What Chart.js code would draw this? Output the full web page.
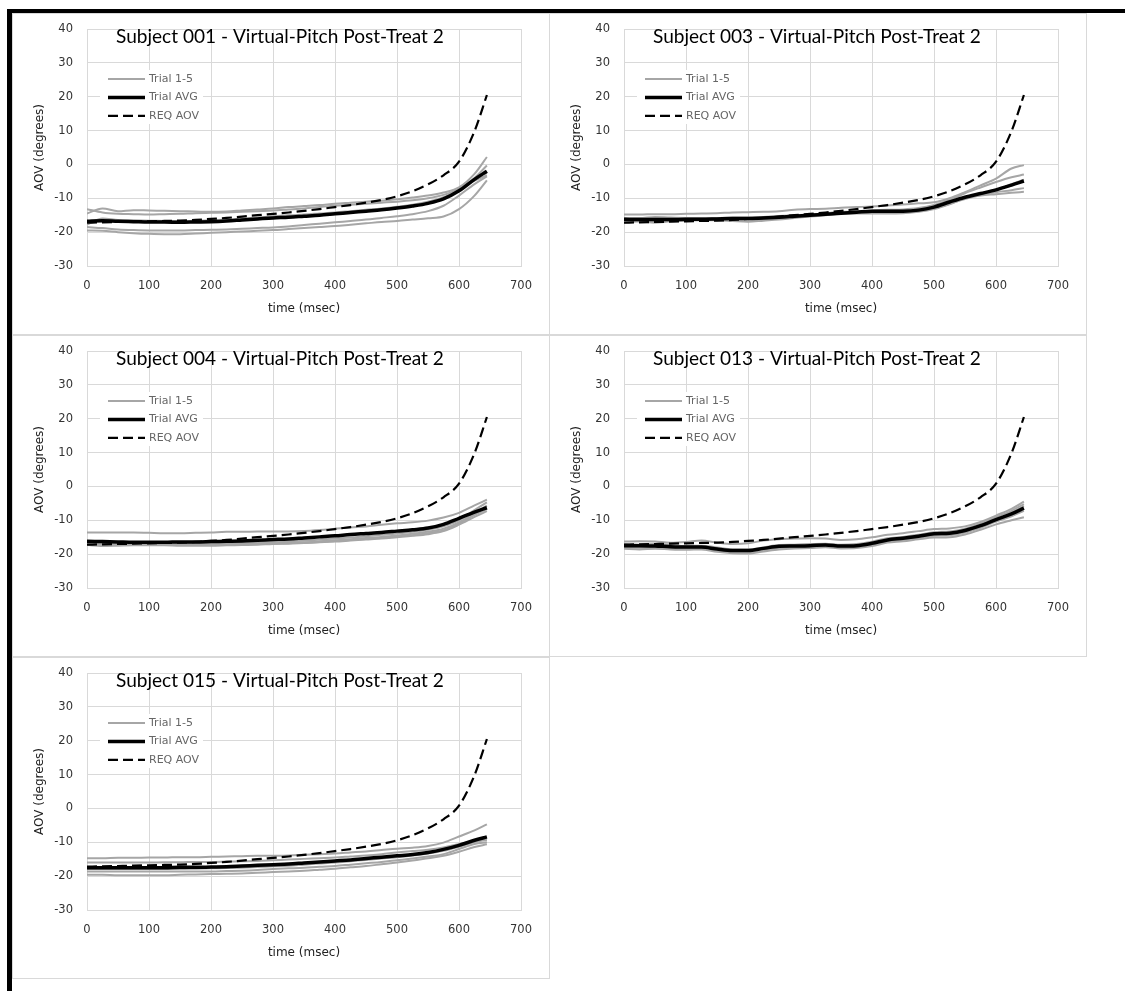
<!DOCTYPE html>
<html>
<head>
<meta charset="utf-8">
<script src="https://cdn.jsdelivr.net/npm/chart.js@4.4.1/dist/chart.umd.min.js"></script>
<style>
  body { margin: 0; background: #fff; width: 1125px; height: 991px; overflow: hidden; position: relative; }
  #frame { position: absolute; left: 7px; top: 9px; right: 0; bottom: 0; border-top: 4px solid #000; border-left: 5px solid #000; }
  .panel { position: absolute; box-sizing: border-box; border: 1px solid #d9d9d9; background: #fff; }
  .panel canvas { position: absolute; left: 0; top: 0; }
</style>
</head>
<body>
<div id="frame"></div>
<div class="panel" style="left:12px;top:13px;width:538px;height:322px"><canvas id="c001" width="536" height="320"></canvas></div>
<div class="panel" style="left:549px;top:13px;width:538px;height:322px"><canvas id="c003" width="536" height="320"></canvas></div>
<div class="panel" style="left:12px;top:335px;width:538px;height:322px"><canvas id="c004" width="536" height="320"></canvas></div>
<div class="panel" style="left:549px;top:335px;width:538px;height:322px"><canvas id="c013" width="536" height="320"></canvas></div>
<div class="panel" style="left:12px;top:657px;width:538px;height:322px"><canvas id="c015" width="536" height="320"></canvas></div>
<script>
// time axis (msec), shared by every series
const TIME = [0,25,50,75,100,125,150,175,200,225,250,275,300,325,350,375,400,425,450,475,500,525,550,575,600,625,645];
const X_TICKS = [0, 700, 100];   // min, max, step
const Y_TICKS = [-30, 40, 10];

// required angle of view (same curve in every panel)
const REQ_AOV = [-17.2,-17.1,-17.0,-16.9,-16.8,-16.7,-16.6,-16.4,-16.1,-15.8,-15.4,-15.0,-14.6,-14.2,-13.7,-13.2,-12.6,-12.0,-11.3,-10.5,-9.4,-7.9,-5.9,-3.2,0.8,9.8,20.5];

// Subject 001
const S001_TRIALS = [
  [-14.5,-13.0,-13.8,-13.5,-13.6,-13.7,-13.8,-13.9,-14.0,-13.9,-13.6,-13.3,-13.0,-12.6,-12.3,-12.0,-11.6,-11.3,-11.0,-10.7,-10.3,-9.8,-9.2,-8.3,-6.8,-2.8,2.2],
  [-13.2,-14.2,-14.6,-14.7,-14.8,-14.7,-14.6,-14.4,-14.3,-14.2,-14.0,-13.8,-13.6,-13.3,-13.0,-12.6,-12.2,-11.9,-11.6,-11.3,-11.0,-10.6,-10.0,-9.0,-7.2,-4.0,-0.3],
  [-17.8,-16.0,-16.4,-16.5,-16.6,-16.7,-16.8,-16.7,-16.5,-16.3,-16.0,-15.7,-15.3,-15.0,-14.8,-14.5,-14.2,-13.8,-13.4,-13.0,-12.5,-11.9,-11.0,-9.7,-7.4,-4.8,-3.2],
  [-19.5,-19.6,-20.0,-20.3,-20.5,-20.6,-20.6,-20.4,-20.2,-20.0,-19.8,-19.6,-19.4,-19.1,-18.8,-18.5,-18.2,-17.8,-17.4,-17.0,-16.7,-16.3,-15.9,-15.4,-13.2,-9.2,-4.7],
  [-18.5,-18.8,-19.2,-19.4,-19.5,-19.5,-19.5,-19.4,-19.3,-19.2,-19.0,-18.8,-18.6,-18.3,-17.9,-17.5,-17.1,-16.7,-16.3,-15.8,-15.3,-14.7,-13.8,-12.2,-9.2,-5.8,-3.5]
];
const S001_AVG = [-16.8,-16.6,-16.8,-16.9,-17.0,-17.0,-17.1,-17.0,-16.9,-16.7,-16.4,-16.1,-15.8,-15.6,-15.3,-15.0,-14.6,-14.2,-13.8,-13.4,-12.9,-12.3,-11.5,-10.2,-7.8,-4.4,-2.0];

// Subject 003
const S003_TRIALS = [
  [-14.8,-14.8,-14.7,-14.7,-14.6,-14.5,-14.4,-14.2,-14.1,-14.0,-13.8,-13.4,-13.2,-13.1,-12.8,-12.6,-12.4,-12.1,-11.8,-11.5,-11.2,-10.0,-8.2,-6.2,-4.2,-1.2,-0.2],
  [-16.0,-16.2,-16.3,-16.3,-16.2,-16.1,-16.0,-15.9,-15.8,-15.6,-15.5,-15.2,-14.8,-14.5,-14.2,-13.9,-13.6,-13.4,-13.3,-12.9,-12.0,-10.5,-8.5,-6.8,-5.2,-3.8,-3.0],
  [-16.5,-16.8,-16.8,-16.6,-16.4,-16.3,-16.2,-16.2,-16.3,-16.2,-16.0,-15.6,-15.2,-14.9,-14.5,-14.3,-14.2,-14.2,-14.2,-13.8,-13.0,-11.6,-9.8,-8.6,-7.6,-5.8,-4.5],
  [-17.2,-16.8,-17.2,-16.8,-16.6,-16.5,-16.5,-16.7,-16.9,-16.6,-16.3,-15.8,-15.4,-15.0,-14.6,-14.5,-14.5,-14.5,-14.4,-14.0,-13.2,-11.8,-10.0,-9.0,-8.2,-7.6,-7.0],
  [-15.8,-15.8,-15.5,-15.7,-15.8,-15.8,-15.8,-15.7,-15.7,-15.5,-15.2,-15.0,-14.8,-14.4,-14.0,-14.0,-14.0,-14.0,-13.8,-13.5,-12.8,-11.6,-10.2,-9.2,-8.8,-8.4,-8.1]
];
const S003_AVG = [-16.2,-16.3,-16.3,-16.3,-16.2,-16.2,-16.1,-16.0,-16.0,-15.8,-15.6,-15.3,-15.0,-14.7,-14.4,-14.1,-13.8,-13.8,-13.8,-13.5,-12.6,-11.1,-9.7,-8.6,-7.5,-6.1,-4.9];

// Subject 004
const S004_TRIALS = [
  [-13.6,-13.6,-13.6,-13.6,-13.7,-13.8,-13.8,-13.7,-13.6,-13.4,-13.4,-13.3,-13.3,-13.3,-13.2,-12.9,-12.5,-12.1,-11.8,-11.3,-10.9,-10.6,-10.1,-9.2,-7.8,-5.6,-3.9],
  [-17.0,-17.0,-17.1,-17.1,-17.2,-17.1,-17.0,-17.0,-16.9,-16.8,-16.7,-16.6,-16.4,-16.2,-16.0,-15.7,-15.4,-15.1,-14.7,-14.3,-13.9,-13.4,-12.8,-11.8,-10.0,-7.0,-4.7],
  [-17.3,-17.4,-17.3,-17.3,-17.3,-17.2,-17.2,-17.2,-17.2,-17.1,-17.0,-16.9,-16.8,-16.6,-16.5,-16.2,-15.9,-15.6,-15.2,-14.9,-14.5,-14.0,-13.4,-12.5,-10.6,-7.8,-5.7],
  [-16.5,-16.6,-16.8,-16.9,-17.0,-17.0,-17.0,-17.1,-17.1,-17.0,-17.0,-16.9,-16.9,-16.8,-16.6,-16.4,-16.1,-15.8,-15.5,-15.2,-14.8,-14.4,-13.8,-13.0,-11.0,-8.4,-6.7],
  [-17.2,-17.6,-17.5,-17.4,-17.4,-17.4,-17.5,-17.5,-17.5,-17.4,-17.3,-17.2,-17.0,-16.9,-16.7,-16.5,-16.3,-16.0,-15.7,-15.4,-15.0,-14.6,-14.1,-13.2,-11.3,-9.0,-7.3]
];
const S004_AVG = [-16.2,-16.3,-16.4,-16.5,-16.5,-16.5,-16.4,-16.4,-16.3,-16.2,-16.1,-15.9,-15.7,-15.5,-15.2,-14.9,-14.6,-14.2,-13.9,-13.6,-13.2,-12.8,-12.3,-11.2,-9.4,-7.6,-6.3];

// Subject 013
const S013_TRIALS = [
  [-16.3,-16.2,-16.3,-16.6,-16.4,-16.0,-16.6,-17.0,-16.8,-16.0,-15.6,-15.4,-15.3,-15.4,-15.8,-15.6,-15.0,-14.3,-13.8,-13.2,-12.6,-12.4,-11.8,-10.5,-8.6,-6.6,-4.5],
  [-17.0,-17.2,-17.0,-17.3,-17.6,-17.5,-18.0,-18.6,-18.6,-18.0,-17.3,-17.2,-17.0,-16.9,-17.2,-17.0,-16.3,-15.3,-14.9,-14.3,-13.5,-13.3,-12.5,-11.0,-9.1,-7.2,-5.2],
  [-18.0,-18.1,-18.2,-18.3,-18.4,-18.5,-19.0,-19.4,-19.5,-18.9,-18.2,-18.1,-18.0,-17.8,-18.1,-18.0,-17.3,-16.3,-15.8,-15.2,-14.6,-14.4,-13.6,-12.2,-10.4,-8.8,-7.2],
  [-18.4,-18.6,-18.4,-18.6,-18.7,-18.6,-19.3,-19.7,-19.8,-19.2,-18.6,-18.3,-18.2,-18.0,-18.3,-18.2,-17.6,-16.6,-16.2,-15.6,-15.1,-15.0,-14.2,-12.8,-11.2,-10.0,-9.1],
  [-17.8,-17.6,-17.9,-18.0,-18.2,-18.0,-18.7,-19.1,-19.1,-18.6,-17.9,-17.8,-17.7,-17.5,-17.8,-17.6,-17.0,-15.9,-15.5,-14.9,-14.2,-14.0,-13.2,-11.8,-9.9,-7.8,-5.8]
];
const S013_AVG = [-17.5,-17.5,-17.6,-17.8,-17.9,-17.9,-18.5,-18.9,-18.9,-18.3,-17.7,-17.6,-17.5,-17.3,-17.6,-17.5,-16.8,-15.8,-15.3,-14.7,-14.0,-13.8,-13.0,-11.6,-9.8,-8.1,-6.4];

// Subject 015
const S015_TRIALS = [
  [-14.7,-14.7,-14.6,-14.6,-14.5,-14.5,-14.4,-14.4,-14.3,-14.2,-14.1,-14.0,-14.0,-13.9,-13.7,-13.5,-13.3,-13.0,-12.7,-12.3,-11.9,-11.6,-11.1,-10.1,-8.3,-6.5,-4.7],
  [-16.0,-16.0,-16.0,-16.0,-16.0,-15.9,-15.9,-15.8,-15.8,-15.7,-15.6,-15.5,-15.3,-15.1,-14.9,-14.7,-14.5,-14.2,-13.9,-13.5,-13.0,-12.6,-12.2,-11.5,-10.5,-9.8,-9.3],
  [-18.6,-18.6,-18.6,-18.6,-18.6,-18.6,-18.6,-18.6,-18.6,-18.5,-18.4,-18.2,-17.9,-17.7,-17.5,-17.2,-17.0,-16.6,-16.2,-15.8,-15.3,-14.8,-14.2,-13.5,-12.0,-10.5,-10.0],
  [-19.6,-19.6,-19.7,-19.7,-19.7,-19.7,-19.6,-19.5,-19.4,-19.3,-19.2,-19.0,-18.8,-18.6,-18.4,-18.1,-17.8,-17.4,-17.0,-16.5,-16.0,-15.4,-14.7,-14.0,-12.8,-11.4,-10.6],
  [-17.9,-17.9,-17.9,-17.9,-17.9,-17.9,-17.9,-17.8,-17.7,-17.6,-17.5,-17.3,-17.1,-16.9,-16.6,-16.3,-16.0,-15.6,-15.2,-14.8,-14.4,-13.9,-13.3,-12.5,-11.3,-9.9,-8.9]
];
const S015_AVG = [-17.5,-17.5,-17.5,-17.5,-17.5,-17.5,-17.4,-17.4,-17.3,-17.2,-17.0,-16.8,-16.6,-16.4,-16.1,-15.8,-15.5,-15.2,-14.8,-14.4,-14.0,-13.6,-13.0,-12.1,-10.9,-9.4,-8.4];

const GRID = '#d9d9d9';
const TRIAL_GREY = '#a6a6a6';

// title + legend drawn over the plot area, like the Excel overlay
const overlay = {
    id: 'overlay',
    afterDraw(chart) {
        const ctx = chart.ctx;
        const a = chart.chartArea;
        const title = chart.options.plugins.overlay.title;
        ctx.save();

        // title, fitted to the width it has in the picture
        ctx.font = '20px Lato';
        const size = 20 * 328 / ctx.measureText(title).width;
        ctx.font = size.toFixed(2) + 'px Lato';
        ctx.fillStyle = '#000';
        ctx.textAlign = 'left';
        ctx.textBaseline = 'alphabetic';
        ctx.fillText(title, a.left + 29, a.top + 14);

        // legend box
        ctx.fillStyle = '#fff';
        ctx.fillRect(a.left + 13, a.top + 41, 103, 54);
        const items = chart.data.datasets.filter(d => d.label);
        items.forEach((d, i) => {
            const y = a.top + 50 + i * 18.4;
            ctx.beginPath();
            ctx.strokeStyle = d.borderColor;
            ctx.lineWidth = d.borderWidth;
            ctx.setLineDash(d.borderDash || []);
            ctx.moveTo(a.left + 21, y);
            ctx.lineTo(a.left + 58, y);
            ctx.stroke();
            ctx.setLineDash([]);
            ctx.fillStyle = '#666';
            ctx.font = '11px "DejaVu Sans"';
            ctx.textBaseline = 'middle';
            ctx.fillText(d.label, a.left + 62, y);
        });
        ctx.restore();
    }
};

function points(values) {
    return values.map((v, i) => ({ x: TIME[i], y: v }));
}

function makeChart(id, title, trials, avg) {
    const datasets = trials.map((t, i) => ({
        label: i === 0 ? 'Trial 1-5' : '',
        data: points(t),
        borderColor: TRIAL_GREY,
        borderWidth: 2,
        order: 2
    }));
    datasets.push({ label: 'Trial AVG', data: points(avg), borderColor: '#000', borderWidth: 3.5, order: 1 });
    datasets.push({ label: 'REQ AOV', data: points(REQ_AOV), borderColor: '#000', borderWidth: 2.2, borderDash: [10, 5], order: 0 });

    new Chart(document.getElementById(id), {
        type: 'line',
        data: { datasets: datasets },
        options: {
            responsive: false,
            animation: false,
            events: [],
            elements: {
                point: { radius: 0 },
                line: { cubicInterpolationMode: 'monotone', fill: false }
            },
            layout: { padding: { left: 0, top: 15, right: 28, bottom: 0 } },
            plugins: {
                legend: { display: false },
                tooltip: { enabled: false },
                overlay: { title: title }
            },
            scales: {
                x: {
                    type: 'linear',
                    min: X_TICKS[0], max: X_TICKS[1],
                    ticks: { stepSize: X_TICKS[2], padding: 13, color: '#333', font: { family: 'DejaVu Sans', size: 11.5 } },
                    grid: { color: GRID, drawTicks: false },
                    border: { color: GRID },
                    title: { display: true, text: 'time (msec)', color: '#222', font: { family: 'DejaVu Sans', size: 12 }, padding: { top: 0, bottom: 18 } },
                    afterFit(scale) { scale.height = 68; scale.paddingLeft = 0; scale.paddingRight = 0; }
                },
                y: {
                    min: Y_TICKS[0], max: Y_TICKS[1],
                    ticks: { stepSize: Y_TICKS[2], padding: 14, color: '#333', font: { family: 'DejaVu Sans', size: 11.5 } },
                    grid: { color: GRID, drawTicks: false },
                    border: { color: GRID },
                    title: { display: true, text: 'AOV (degrees)', color: '#222', font: { family: 'DejaVu Sans', size: 12 }, padding: { top: 20, bottom: 0 } },
                    afterFit(scale) { scale.width = 74; scale.paddingTop = 0; scale.paddingBottom = 0; }
                }
            }
        },
        plugins: [overlay]
    });
}

makeChart('c001', 'Subject 001 - Virtual-Pitch Post-Treat 2', S001_TRIALS, S001_AVG);
makeChart('c003', 'Subject 003 - Virtual-Pitch Post-Treat 2', S003_TRIALS, S003_AVG);
makeChart('c004', 'Subject 004 - Virtual-Pitch Post-Treat 2', S004_TRIALS, S004_AVG);
makeChart('c013', 'Subject 013 - Virtual-Pitch Post-Treat 2', S013_TRIALS, S013_AVG);
makeChart('c015', 'Subject 015 - Virtual-Pitch Post-Treat 2', S015_TRIALS, S015_AVG);
</script>
</body>
</html>
